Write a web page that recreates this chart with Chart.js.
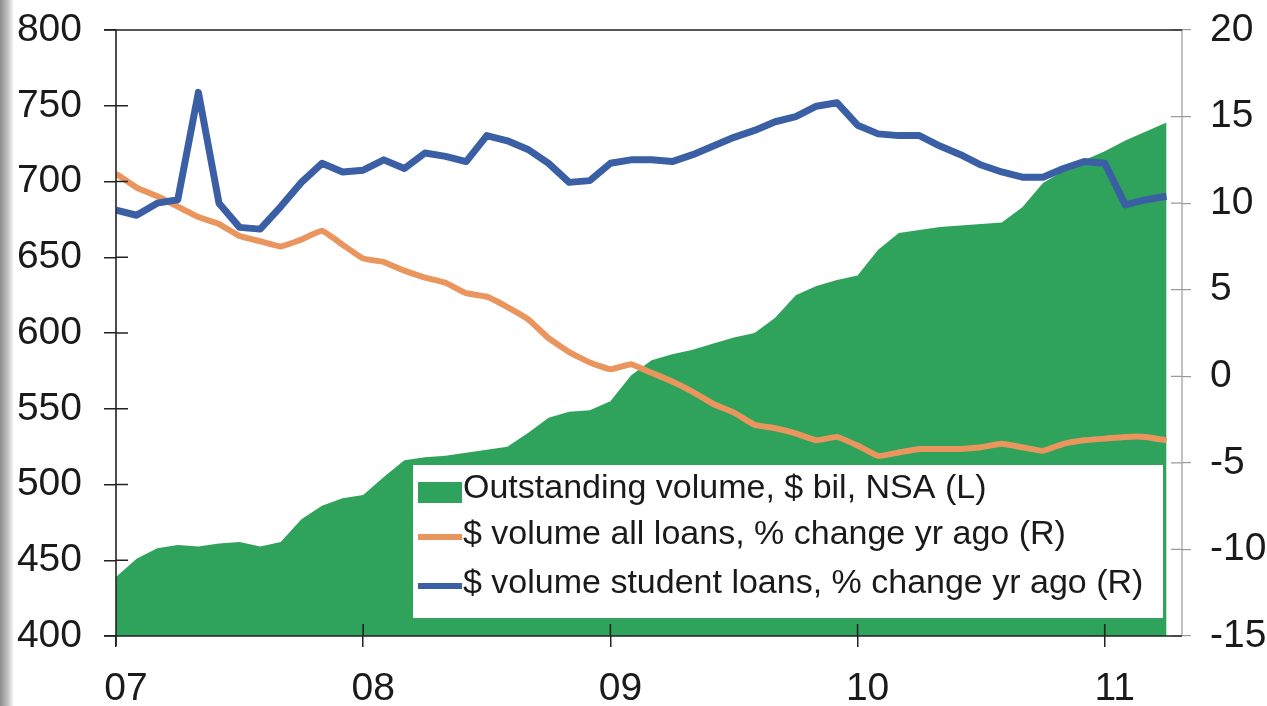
<!DOCTYPE html>
<html>
<head>
<meta charset="utf-8">
<script src="https://cdn.jsdelivr.net/npm/chart.js@4.4.1/dist/chart.umd.min.js"></script>
<style>
html, body { margin: 0; padding: 0; }
body {
    width: 1267px; height: 706px; overflow: hidden;
    background: linear-gradient(to right, #8c8c8c 0px, #c4c4c4 8px, #ececec 12px, #ffffff 14px);
}
canvas { display: block; }
</style>
</head>
<body>
<canvas id="myChart" width="1267" height="706"></canvas>
<script>
// monthly, Jan 2007 .. Apr 2011 (index 0 = Jan 07)
const yearLabels = ['07', '08', '09', '10', '11'];

// Outstanding volume, $ bil (left axis)
const outstandingVolume = [
    439, 451, 458, 460, 459, 461, 462, 459, 462, 477, 486, 491,
    493, 505, 516, 518, 519, 521, 523, 525, 534, 544, 548, 549,
    555, 572, 582, 586, 589, 593, 597, 600, 610, 625, 631, 635,
    638, 655, 666, 668, 670, 671, 672, 673, 683, 699, 707, 714,
    720, 727, 733, 739
];

// % change yr ago (right axis)
const allLoansChange = [
    11.7, 10.9, 10.4, 9.8, 9.2, 8.8, 8.1, 7.8, 7.5, 7.9, 8.4, 7.6,
    6.8, 6.6, 6.1, 5.7, 5.4, 4.8, 4.6, 4.0, 3.3, 2.2, 1.4, 0.8,
    0.4, 0.7, 0.2, -0.3, -0.9, -1.6, -2.1, -2.8, -3.0, -3.3, -3.7, -3.5,
    -4.0, -4.6, -4.4, -4.2, -4.2, -4.2, -4.1, -3.9, -4.1, -4.3, -3.9, -3.7,
    -3.6, -3.5, -3.5, -3.7
];

const studentLoansChange = [
    9.6, 9.3, 10.0, 10.2, 16.4, 10.0, 8.6, 8.5, 9.8, 11.2, 12.3, 11.8,
    11.9, 12.5, 12.0, 12.9, 12.7, 12.4, 13.9, 13.6, 13.1, 12.3, 11.2, 11.3,
    12.3, 12.5, 12.5, 12.4, 12.8, 13.3, 13.8, 14.2, 14.7, 15.0, 15.6, 15.8,
    14.5, 14.0, 13.9, 13.9, 13.3, 12.8, 12.2, 11.8, 11.5, 11.5, 12.0, 12.4,
    12.3, 9.9, 10.2, 10.4
];

const seriesLabels = [
    'Outstanding volume, $ bil, NSA (L)',
    '$ volume all loans, % change yr ago (R)',
    '$ volume student loans, % change yr ago (R)'
];

const green = '#2fa25c';
const orange = '#e9955d';
const blue = '#3b5fa4';
const tickFont = { family: "'Liberation Sans', Arial, sans-serif", size: 39 };

function toPoints(arr) {
    return arr.map((v, i) => ({ x: i, y: v }));
}

// fixed axis sizes so the plot box sits where the original one does
function fixWidth(w) {
    return s => { s.width = w; s.paddingTop = 0; s.paddingBottom = 0; };
}

// legend box drawn inside the plot, over the green area
const boxLegend = {
    id: 'boxLegend',
    afterDatasetsDraw(chart) {
        const ctx = chart.ctx;
        const left = 413, top = 465, right = 1163, bottom = 618;
        const rows = [498, 544, 593];
        ctx.save();
        ctx.fillStyle = '#ffffff';
        ctx.fillRect(left, top, right - left, bottom - top);
        ctx.font = "34px 'Liberation Sans', Arial, sans-serif";
        ctx.textBaseline = 'alphabetic';
        chart.data.datasets.forEach((ds, i) => {
            const y = rows[i];
            if (ds.fill) {
                ctx.fillStyle = ds.backgroundColor;
                ctx.fillRect(418, y - 16, 44, 21);
            } else {
                ctx.strokeStyle = ds.borderColor;
                ctx.lineWidth = 6;
                ctx.beginPath();
                ctx.moveTo(418, y - 7);
                ctx.lineTo(462, y - 7);
                ctx.stroke();
            }
            ctx.fillStyle = '#1a1a1a';
            ctx.fillText(ds.label, 463, y);
        });
        ctx.restore();
    }
};

// frame lines and the tick stubs that cross into the plot
const frame = {
    id: 'frame',
    afterDraw(chart) {
        const { ctx, chartArea: a, scales } = chart;
        ctx.save();
        ctx.strokeStyle = '#9a9a9a';
        ctx.lineWidth = 1.2;
        ctx.beginPath();
        ctx.moveTo(a.right, a.top);
        ctx.lineTo(a.right, a.bottom);
        scales.y1.ticks.forEach(t => {
            const y = scales.y1.getPixelForValue(t.value);
            ctx.moveTo(a.right - 11, y);
            ctx.lineTo(a.right, y);
        });
        ctx.stroke();

        ctx.strokeStyle = '#222';
        ctx.lineWidth = 1.6;
        ctx.beginPath();
        ctx.moveTo(a.left - 12, a.top);
        ctx.lineTo(a.right, a.top);
        ctx.moveTo(a.left - 12, a.bottom);
        ctx.lineTo(a.right, a.bottom);
        ctx.moveTo(a.left, a.top);
        ctx.lineTo(a.left, a.bottom + 10);
        scales.y.ticks.forEach(t => {
            const y = scales.y.getPixelForValue(t.value);
            ctx.moveTo(a.left, y);
            ctx.lineTo(a.left + 12, y);
        });
        scales.x.ticks.forEach(t => {
            const x = scales.x.getPixelForValue(t.value);
            ctx.moveTo(x, a.bottom);
            ctx.lineTo(x, a.bottom - 12);
        });
        ctx.stroke();
        ctx.restore();
    }
};

window.myChart = new Chart(document.getElementById('myChart').getContext('2d'), {
    type: 'line',
    data: {
        datasets: [
            {
                label: seriesLabels[0],
                data: toPoints(outstandingVolume),
                yAxisID: 'y',
                fill: 'start',
                backgroundColor: green,
                borderColor: green,
                borderWidth: 0,
                pointRadius: 0,
                tension: 0,
                order: 3
            },
            {
                label: seriesLabels[1],
                data: toPoints(allLoansChange),
                yAxisID: 'y1',
                fill: false,
                borderColor: orange,
                backgroundColor: orange,
                borderWidth: 6,
                pointRadius: 0,
                tension: 0.1,
                order: 2
            },
            {
                label: seriesLabels[2],
                data: toPoints(studentLoansChange),
                yAxisID: 'y1',
                fill: false,
                borderColor: blue,
                backgroundColor: blue,
                borderWidth: 7,
                borderJoinStyle: 'round',
                pointRadius: 0,
                tension: 0,
                order: 1
            }
        ]
    },
    options: {
        responsive: false,
        animation: false,
        layout: { padding: { top: 30, left: 0, right: 0, bottom: 0 } },
        plugins: {
            legend: { display: false },
            tooltip: { enabled: false }
        },
        scales: {
            x: {
                type: 'linear',
                min: 0,
                max: 51.75,
                afterBuildTicks: s => { s.ticks = yearLabels.map((_, i) => ({ value: i * 12 })); },
                afterFit: s => { s.height = 70; },
                ticks: {
                    font: tickFont,
                    color: '#1a1a1a',
                    padding: 19,
                    labelOffset: 10,
                    maxRotation: 0,
                    autoSkip: false,
                    callback: v => yearLabels[v / 12]
                },
                grid: { drawOnChartArea: false, tickLength: 11, color: '#222', lineWidth: 1.5 },
                border: { display: false }
            },
            y: {
                position: 'left',
                min: 400,
                max: 800,
                afterFit: fixWidth(116),
                ticks: { stepSize: 50, font: tickFont, color: '#1a1a1a', padding: 22 },
                grid: { drawOnChartArea: false, tickLength: 12, color: '#222', lineWidth: 1.5 },
                border: { display: false }
            },
            y1: {
                position: 'right',
                min: -15,
                max: 20,
                afterFit: fixWidth(85),
                ticks: { stepSize: 5, font: tickFont, color: '#1a1a1a', padding: 19 },
                grid: { drawOnChartArea: false, tickLength: 9, color: '#9a9a9a', lineWidth: 1.2 },
                border: { display: false }
            }
        }
    },
    plugins: [boxLegend, frame]
});
</script>
</body>
</html>
